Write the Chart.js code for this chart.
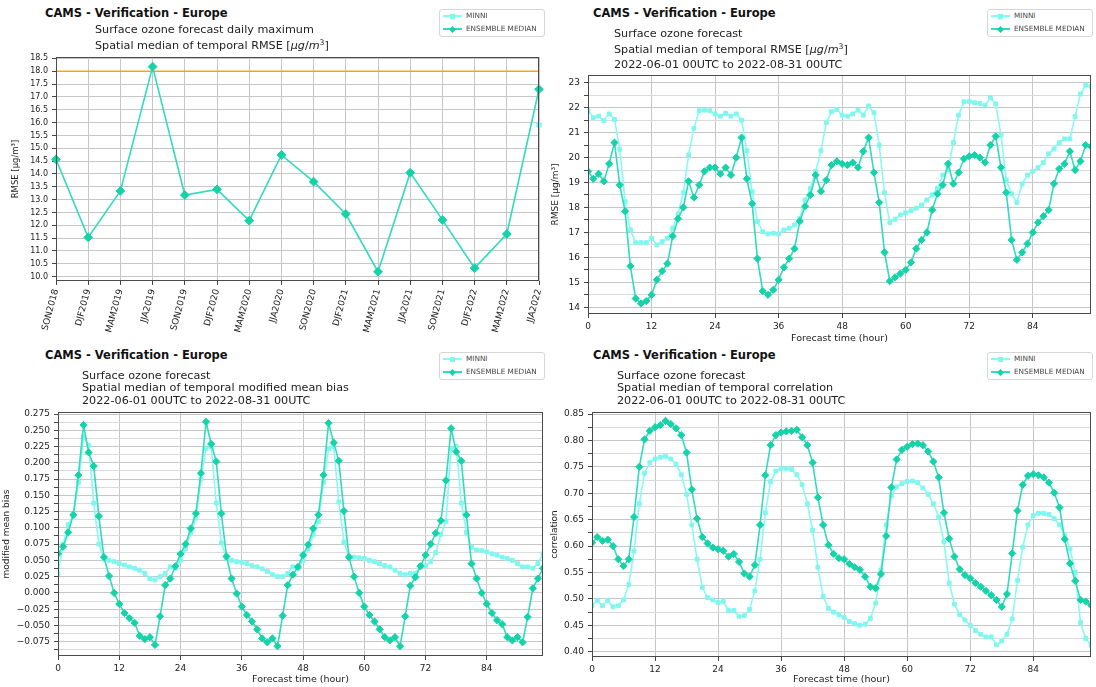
<!DOCTYPE html>
<html>
<head>
<meta charset="utf-8">
<script src="https://cdn.jsdelivr.net/npm/chart.js@4.4.1/dist/chart.umd.min.js"></script>
<style>
  html, body { margin:0; padding:0; background:#fff; }
  body { width:1096px; height:687px; position:relative; overflow:hidden; font-family:"DejaVu Sans", sans-serif; }
  canvas { position:absolute; }
  .t { position:absolute; white-space:nowrap; line-height:1; }
  .b { font-weight:bold; font-size:11.5px; color:#111; }
  .s { font-size:11.2px; color:#222; }
  .s sup { font-size:0.68em; vertical-align:0.5em; line-height:0; }
  .leg { position:absolute; width:104px; height:26px; border:1px solid #d6d6d6; border-radius:3px; background:#fff; }
  .row { position:absolute; left:0; width:104px; height:12px; }
  .ln { position:absolute; left:3px; width:19px; height:1.6px; top:5.2px; }
  .mk { position:absolute; }
  .lt { position:absolute; left:26px; top:2px; font-size:7.3px; color:#444; line-height:1; white-space:nowrap; }
</style>
</head>
<body>

<canvas id="c1" width="548" height="295" style="left:0px;top:48px"></canvas>
<canvas id="c2" width="548" height="277" style="left:548px;top:68px"></canvas>
<canvas id="c3" width="548" height="284" style="left:0px;top:403px"></canvas>
<canvas id="c4" width="548" height="284" style="left:548px;top:403px"></canvas>

<!-- titles -->
<div class="t b" style="left:45px;top:8px">CAMS - Verification - Europe</div>
<div class="t s" style="left:95px;top:24px">Surface ozone forecast daily maximum</div>
<div class="t s" style="left:95px;top:40px">Spatial median of temporal RMSE [<i>μg</i>/<i>m</i><sup>3</sup>]</div>

<div class="t b" style="left:593px;top:8px">CAMS - Verification - Europe</div>
<div class="t s" style="left:614px;top:28px">Surface ozone forecast</div>
<div class="t s" style="left:614px;top:44px">Spatial median of temporal RMSE [<i>μg</i>/<i>m</i><sup>3</sup>]</div>
<div class="t s" style="left:614px;top:59px">2022-06-01 00UTC to 2022-08-31 00UTC</div>

<div class="t b" style="left:45px;top:350px">CAMS - Verification - Europe</div>
<div class="t s" style="left:82px;top:370px">Surface ozone forecast</div>
<div class="t s" style="left:82px;top:382px">Spatial median of temporal modified mean bias</div>
<div class="t s" style="left:82px;top:395px">2022-06-01 00UTC to 2022-08-31 00UTC</div>

<div class="t b" style="left:593px;top:350px">CAMS - Verification - Europe</div>
<div class="t s" style="left:617px;top:370px">Surface ozone forecast</div>
<div class="t s" style="left:617px;top:382px">Spatial median of temporal correlation</div>
<div class="t s" style="left:617px;top:395px">2022-06-01 00UTC to 2022-08-31 00UTC</div>

<script>
// ---------------- DATA ----------------
const seriesNames = ["MINNI", "ENSEMBLE MEDIAN"];

// Panel 1: seasonal daily-maximum RMSE
const seasons = ["SON2018","DJF2019","MAM2019","JJA2019","SON2019","DJF2020","MAM2020","JJA2020",
                 "SON2020","DJF2021","MAM2021","JJA2021","SON2021","DJF2022","MAM2022","JJA2022"];
const seasonalEnsembleRmse = [14.57, 11.53, 13.34, 18.18, 13.18, 13.40, 12.18, 14.74,
                              13.70, 12.44, 10.19, 14.05, 12.21, 10.33, 11.66, 17.30];
const seasonalMinniRmse = [null, null, null, null, null, null, null, null,
                           null, null, null, null, null, null, null, 15.91];
const rmseTarget = 18.0;

// Panels 2-4: forecast hour axis
const forecastHours = [0,1,2,3,4,5,6,7,8,9,10,11,12,13,14,15,16,17,18,19,20,21,22,23,
  24,25,26,27,28,29,30,31,32,33,34,35,36,37,38,39,40,41,42,43,44,45,46,47,
  48,49,50,51,52,53,54,55,56,57,58,59,60,61,62,63,64,65,66,67,68,69,70,71,
  72,73,74,75,76,77,78,79,80,81,82,83,84,85,86,87,88,89,90,91,92,93,94,95];
const hourTicks = [0, 12, 24, 36, 48, 60, 72, 84];

// Panel 2: hourly RMSE
const hourlyRmseEnsemble = [19.45,19.15,19.35,19.05,19.75,20.6,18.9,17.85,15.65,14.35,14.15,14.25,
  14.5,15.1,15.45,15.75,16.85,17.55,18.0,19.05,18.4,18.9,19.45,19.6,
  19.6,19.35,19.6,19.3,20.0,20.8,19.15,18.15,15.95,14.65,14.5,14.7,
  15.1,15.6,15.95,16.35,17.45,18.05,18.5,19.3,18.65,19.1,19.7,19.85,
  19.75,19.7,19.8,19.6,20.25,20.8,19.4,18.2,16.2,15.05,15.2,15.35,
  15.5,15.8,16.35,16.7,17.0,17.9,18.55,18.9,19.75,18.95,19.4,19.95,
  20.05,20.1,20.0,19.8,20.5,20.85,19.6,18.6,16.7,15.9,16.2,16.55,
  17.0,17.4,17.65,17.9,18.95,19.55,19.75,20.25,19.5,19.85,20.5,20.45];
const hourlyRmseMinni = [21.88,21.6,21.66,21.48,21.75,21.53,20.33,18.23,17.1,16.59,16.59,16.59,
  16.77,16.5,16.63,16.77,17.17,17.74,18.59,20.1,21.17,21.88,21.9,21.88,
  21.75,21.66,21.77,21.66,21.75,21.5,20.28,18.63,17.43,17.03,16.94,16.97,
  16.94,17.1,17.17,17.3,17.57,18.3,18.77,19.44,20.28,21.4,21.84,21.93,
  21.7,21.66,21.75,21.9,21.7,22.07,21.8,20.5,18.59,17.39,17.53,17.7,
  17.79,17.87,17.97,18.1,18.3,18.5,18.77,19.3,19.53,20.6,21.7,22.24,
  22.24,22.2,22.17,22.1,22.4,22.15,20.9,19.1,18.55,18.2,18.95,19.3,
  19.45,19.6,19.8,20.15,20.35,20.6,20.75,20.75,21.65,22.55,22.9,22.85];

// Panel 3: hourly modified mean bias
const hourlyBiasEnsemble = [0.060,0.071,0.093,0.120,0.181,0.258,0.216,0.195,0.118,0.055,0.026,0.000,
  -0.017,-0.031,-0.039,-0.046,-0.066,-0.071,-0.068,-0.080,-0.036,0.012,0.022,0.041,
  0.060,0.075,0.099,0.122,0.184,0.263,0.229,0.202,0.122,0.056,0.022,-0.001,
  -0.021,-0.034,-0.044,-0.056,-0.070,-0.076,-0.070,-0.082,-0.035,0.012,0.028,0.040,
  0.058,0.074,0.099,0.120,0.181,0.261,0.231,0.203,0.126,0.055,0.025,0.000,
  -0.021,-0.034,-0.044,-0.056,-0.068,-0.073,-0.068,-0.082,-0.036,0.011,0.024,0.041,
  0.058,0.075,0.092,0.111,0.173,0.253,0.217,0.203,0.120,0.045,0.022,0.000,
  -0.017,-0.031,-0.042,-0.048,-0.068,-0.073,-0.068,-0.076,-0.037,0.007,0.022,0.038];
const hourlyBiasMinni = [0.030,0.075,0.105,0.118,0.170,0.240,0.227,0.138,0.075,0.052,0.050,0.048,
  0.045,0.043,0.040,0.038,0.035,0.030,0.022,0.020,0.025,0.030,0.040,0.038,
  0.050,0.068,0.093,0.115,0.175,0.222,0.225,0.138,0.077,0.053,0.050,0.048,
  0.047,0.045,0.042,0.040,0.037,0.033,0.028,0.025,0.025,0.030,0.040,0.038,
  0.050,0.068,0.090,0.110,0.170,0.222,0.225,0.140,0.078,0.055,0.055,0.054,
  0.053,0.050,0.048,0.045,0.042,0.040,0.035,0.030,0.028,0.030,0.030,0.042,
  0.042,0.048,0.062,0.090,0.110,0.222,0.225,0.138,0.093,0.070,0.066,0.065,
  0.063,0.060,0.058,0.055,0.053,0.050,0.045,0.040,0.040,0.038,0.045,0.060];

// Panel 4: hourly correlation
const hourlyCorrEnsemble = [0.606,0.617,0.610,0.612,0.600,0.575,0.562,0.575,0.655,0.750,0.802,0.818,
  0.825,0.829,0.837,0.831,0.823,0.810,0.777,0.707,0.652,0.617,0.605,0.597,
  0.594,0.591,0.580,0.585,0.570,0.548,0.542,0.564,0.640,0.734,0.791,0.810,
  0.815,0.817,0.818,0.820,0.806,0.791,0.758,0.692,0.640,0.602,0.585,0.577,
  0.575,0.566,0.560,0.555,0.542,0.523,0.520,0.547,0.619,0.711,0.764,0.782,
  0.788,0.793,0.794,0.791,0.779,0.760,0.730,0.663,0.614,0.580,0.556,0.545,
  0.539,0.530,0.523,0.515,0.507,0.498,0.485,0.509,0.586,0.667,0.716,0.733,
  0.736,0.734,0.730,0.720,0.701,0.673,0.613,0.567,0.534,0.498,0.495,0.488];
const hourlyCorrMinni = [0.487,0.497,0.487,0.497,0.485,0.487,0.498,0.527,0.590,0.680,0.738,0.758,
  0.765,0.768,0.770,0.765,0.755,0.735,0.698,0.640,0.575,0.522,0.502,0.498,
  0.493,0.495,0.478,0.478,0.467,0.468,0.480,0.515,0.575,0.663,0.722,0.742,
  0.747,0.747,0.745,0.735,0.716,0.680,0.630,0.560,0.505,0.482,0.475,0.470,
  0.465,0.457,0.453,0.450,0.452,0.463,0.492,0.555,0.640,0.695,0.712,0.718,
  0.722,0.723,0.720,0.710,0.698,0.680,0.655,0.608,0.530,0.490,0.470,0.460,
  0.450,0.440,0.433,0.428,0.428,0.413,0.420,0.433,0.462,0.535,0.598,0.640,
  0.658,0.662,0.662,0.660,0.652,0.640,0.620,0.595,0.550,0.455,0.425,0.412];

// ---------------- STYLE ----------------
const ENS_LINE = '#2fdcbc', ENS_MARK = '#14d3a9';
const MINNI_LINE = '#86fbf3', MINNI_MARK = '#7ff7ee';
const GRID_MAJOR = '#c6c6c6', GRID_MINOR = '#dadada';
const FONT = 'DejaVu Sans';
Chart.defaults.font.family = FONT;

const framePlugin = {
  id: 'frame',
  afterDatasetsDraw(chart) {
    const {ctx, chartArea: a} = chart;
    ctx.save();
    ctx.strokeStyle = '#4a4a4a';
    ctx.lineWidth = 1;
    ctx.strokeRect(Math.round(a.left) + 0.5, Math.round(a.top) + 0.5,
                   Math.round(a.right - a.left) - 1, Math.round(a.bottom - a.top) - 1);
    ctx.restore();
  }
};

function isMultiple(v, m) { return Math.abs(Math.round(v / m) * m - v) < 1e-7; }
function fmtNum(v, d) { const s = Math.abs(v).toFixed(d); return (v < -1e-9 ? '\u2212' : '') + s; }

function buildChart(id, box, area, spec) {
  const padTop = area.top - box.top;
  const padRight = box.left + box.width - area.right;
  const yW = area.left - box.left;
  const xH = box.top + box.height - area.bottom;

  const xScale = {
    type: spec.xType,
    grid: { color: GRID_MAJOR, lineWidth: 1, tickLength: 4, tickColor: '#444', drawTicks: true },
    border: { display: false },
    ticks: {
      autoSkip: false, padding: 3, color: '#222',
      font: { family: FONT, size: spec.xTickSize },
      maxRotation: spec.xRotation || 0, minRotation: spec.xRotation || 0
    },
    title: spec.xTitle ? { display: true, text: spec.xTitle, color: '#222',
      font: { family: FONT, size: 9.5 }, padding: { top: 0, bottom: spec.xTitlePad } } : { display: false },
    afterFit(s) { s.height = xH; s.paddingLeft = 0; s.paddingRight = 0; }
  };
  if (spec.xType === 'linear') {
    xScale.min = spec.xMin; xScale.max = spec.xMax;
    xScale.afterBuildTicks = (s) => { s.ticks = hourTicks.map(v => ({ value: v })); };
    xScale.ticks.callback = (v) => String(v);
  }

  const yScale = {
    type: 'linear', min: spec.yMin, max: spec.yMax,
    grid: {
      color: (c) => (c.tick && !isMultiple(c.tick.value, spec.yMajor)) ? GRID_MINOR : GRID_MAJOR,
      lineWidth: 1, tickLength: 4, tickColor: '#444', drawTicks: true
    },
    border: { display: false },
    ticks: {
      stepSize: spec.yStep, includeBounds: false, autoSkip: false, padding: 4, color: '#222',
      font: { family: FONT, size: spec.yTickSize },
      callback: (v) => isMultiple(v, spec.yMajor) ? fmtNum(v, spec.yDec) : ''
    },
    title: { display: true, text: spec.yTitle, color: '#222',
      font: { family: FONT, size: spec.yTitleSize }, padding: { top: spec.yTitlePad, bottom: 0 } },
    afterFit(s) { s.width = yW; s.paddingTop = 0; s.paddingBottom = 0; }
  };

  return new Chart(document.getElementById(id), {
    type: 'line',
    data: { labels: spec.labels, datasets: spec.datasets },
    options: {
      responsive: false, animation: false, devicePixelRatio: 1,
      layout: { padding: { left: 0, top: padTop, right: padRight, bottom: 0 } },
      plugins: { legend: { display: false }, tooltip: { enabled: false } },
      scales: { x: xScale, y: yScale },
      elements: { line: { tension: 0 } }
    },
    plugins: [framePlugin]
  });
}

function ensDataset(data, r) {
  return { label: seriesNames[1], data, borderColor: ENS_LINE, backgroundColor: ENS_MARK,
    pointBackgroundColor: ENS_MARK, pointBorderColor: ENS_MARK, pointStyle: 'rectRot',
    pointRadius: r, pointBorderWidth: 1, borderWidth: 1.6, order: 0, spanGaps: false };
}
function minniDataset(data, r) {
  return { label: seriesNames[0], data, borderColor: MINNI_LINE, backgroundColor: MINNI_MARK,
    pointBackgroundColor: MINNI_MARK, pointBorderColor: MINNI_MARK, pointStyle: 'rect',
    pointRadius: r, pointBorderWidth: 1, borderWidth: 1.6, order: 1, spanGaps: false };
}
function hourly(values) { return forecastHours.map((h, i) => ({ x: h, y: values[i] })); }

// Panel 1
buildChart('c1', { left: 0, top: 48, width: 548, height: 295 }, { left: 56, top: 57, right: 539, bottom: 281 }, {
  xType: 'category', labels: seasons, xTickSize: 9, xRotation: 75,
  yMin: 9.83, yMax: 18.555, yStep: 0.5, yMajor: 0.5, yDec: 1, yTickSize: 8,
  yTitle: 'RMSE [\u03bcg/m\u00b3]', yTitleSize: 8.5, yTitlePad: 11,
  datasets: [
    ensDataset(seasonalEnsembleRmse, 4.4),
    minniDataset(seasonalMinniRmse, 3.0),
    { label: 'target', data: [{ x: seasons[0], y: rmseTarget }, { x: seasons[seasons.length - 1], y: rmseTarget }],
      borderColor: '#ffa500', borderWidth: 1.4, pointRadius: 0, order: 2 }
  ]
});

// Panel 2
buildChart('c2', { left: 548, top: 68, width: 548, height: 277 }, { left: 588, top: 75, right: 1095, bottom: 314 }, {
  xType: 'linear', xMin: 0, xMax: 95, xTickSize: 9, xTitle: 'Forecast time (hour)', xTitlePad: 1,
  yMin: 13.73, yMax: 23.31, yStep: 0.5, yMajor: 1, yDec: 0, yTickSize: 9,
  yTitle: 'RMSE [\u03bcg/m\u00b3]', yTitleSize: 9, yTitlePad: 2.6,
  datasets: [ ensDataset(hourly(hourlyRmseEnsemble), 3.6), minniDataset(hourly(hourlyRmseMinni), 2.7) ]
});

// Panel 3
buildChart('c3', { left: 0, top: 403, width: 548, height: 284 }, { left: 58, top: 412, right: 547, bottom: 656 }, {
  xType: 'linear', xMin: 0, xMax: 95, xTickSize: 9, xTitle: 'Forecast time (hour)', xTitlePad: 1.3,
  yMin: -0.097, yMax: 0.2781, yStep: 0.0125, yMajor: 0.025, yDec: 3, yTickSize: 9,
  yTitle: 'modified mean bias', yTitleSize: 9, yTitlePad: 0.9,
  datasets: [ ensDataset(hourly(hourlyBiasEnsemble), 3.6), minniDataset(hourly(hourlyBiasMinni), 2.7) ]
});

// Panel 4
buildChart('c4', { left: 548, top: 403, width: 548, height: 284 }, { left: 592, top: 412, right: 1095, bottom: 657 }, {
  xType: 'linear', xMin: 0, xMax: 95, xTickSize: 9, xTitle: 'Forecast time (hour)', xTitlePad: 1.3,
  yMin: 0.3899, yMax: 0.8538, yStep: 0.025, yMajor: 0.05, yDec: 2, yTickSize: 9,
  yTitle: 'correlation', yTitleSize: 9, yTitlePad: 0.9,
  datasets: [ ensDataset(hourly(hourlyCorrEnsemble), 3.6), minniDataset(hourly(hourlyCorrMinni), 2.7) ]
});

// ---------------- LEGENDS (HTML) ----------------
function addLegend(left, top) {
  const box = document.createElement('div');
  box.className = 'leg';
  box.style.left = left + 'px';
  box.style.top = top + 'px';
  const rows = [
    { name: seriesNames[0], line: MINNI_LINE, mark: MINNI_MARK, diamond: false, y: 0 },
    { name: seriesNames[1], line: ENS_LINE, mark: ENS_MARK, diamond: true, y: 13 }
  ];
  rows.forEach(r => {
    const row = document.createElement('div');
    row.className = 'row';
    row.style.top = r.y + 'px';
    const ln = document.createElement('div');
    ln.className = 'ln'; ln.style.background = r.line;
    const mk = document.createElement('div');
    mk.className = 'mk'; mk.style.background = r.mark;
    if (r.diamond) {
      mk.style.width = '5px'; mk.style.height = '5px'; mk.style.left = '10px'; mk.style.top = '3.5px';
      mk.style.transform = 'rotate(45deg)';
    } else {
      mk.style.width = '5px'; mk.style.height = '5px'; mk.style.left = '10px'; mk.style.top = '3.5px';
    }
    const tx = document.createElement('div');
    tx.className = 'lt'; tx.textContent = r.name;
    row.appendChild(ln); row.appendChild(mk); row.appendChild(tx);
    box.appendChild(row);
  });
  document.body.appendChild(box);
}
addLegend(439, 9);
addLegend(987, 9);
addLegend(439, 352);
addLegend(987, 352);
</script>
</body>
</html>
